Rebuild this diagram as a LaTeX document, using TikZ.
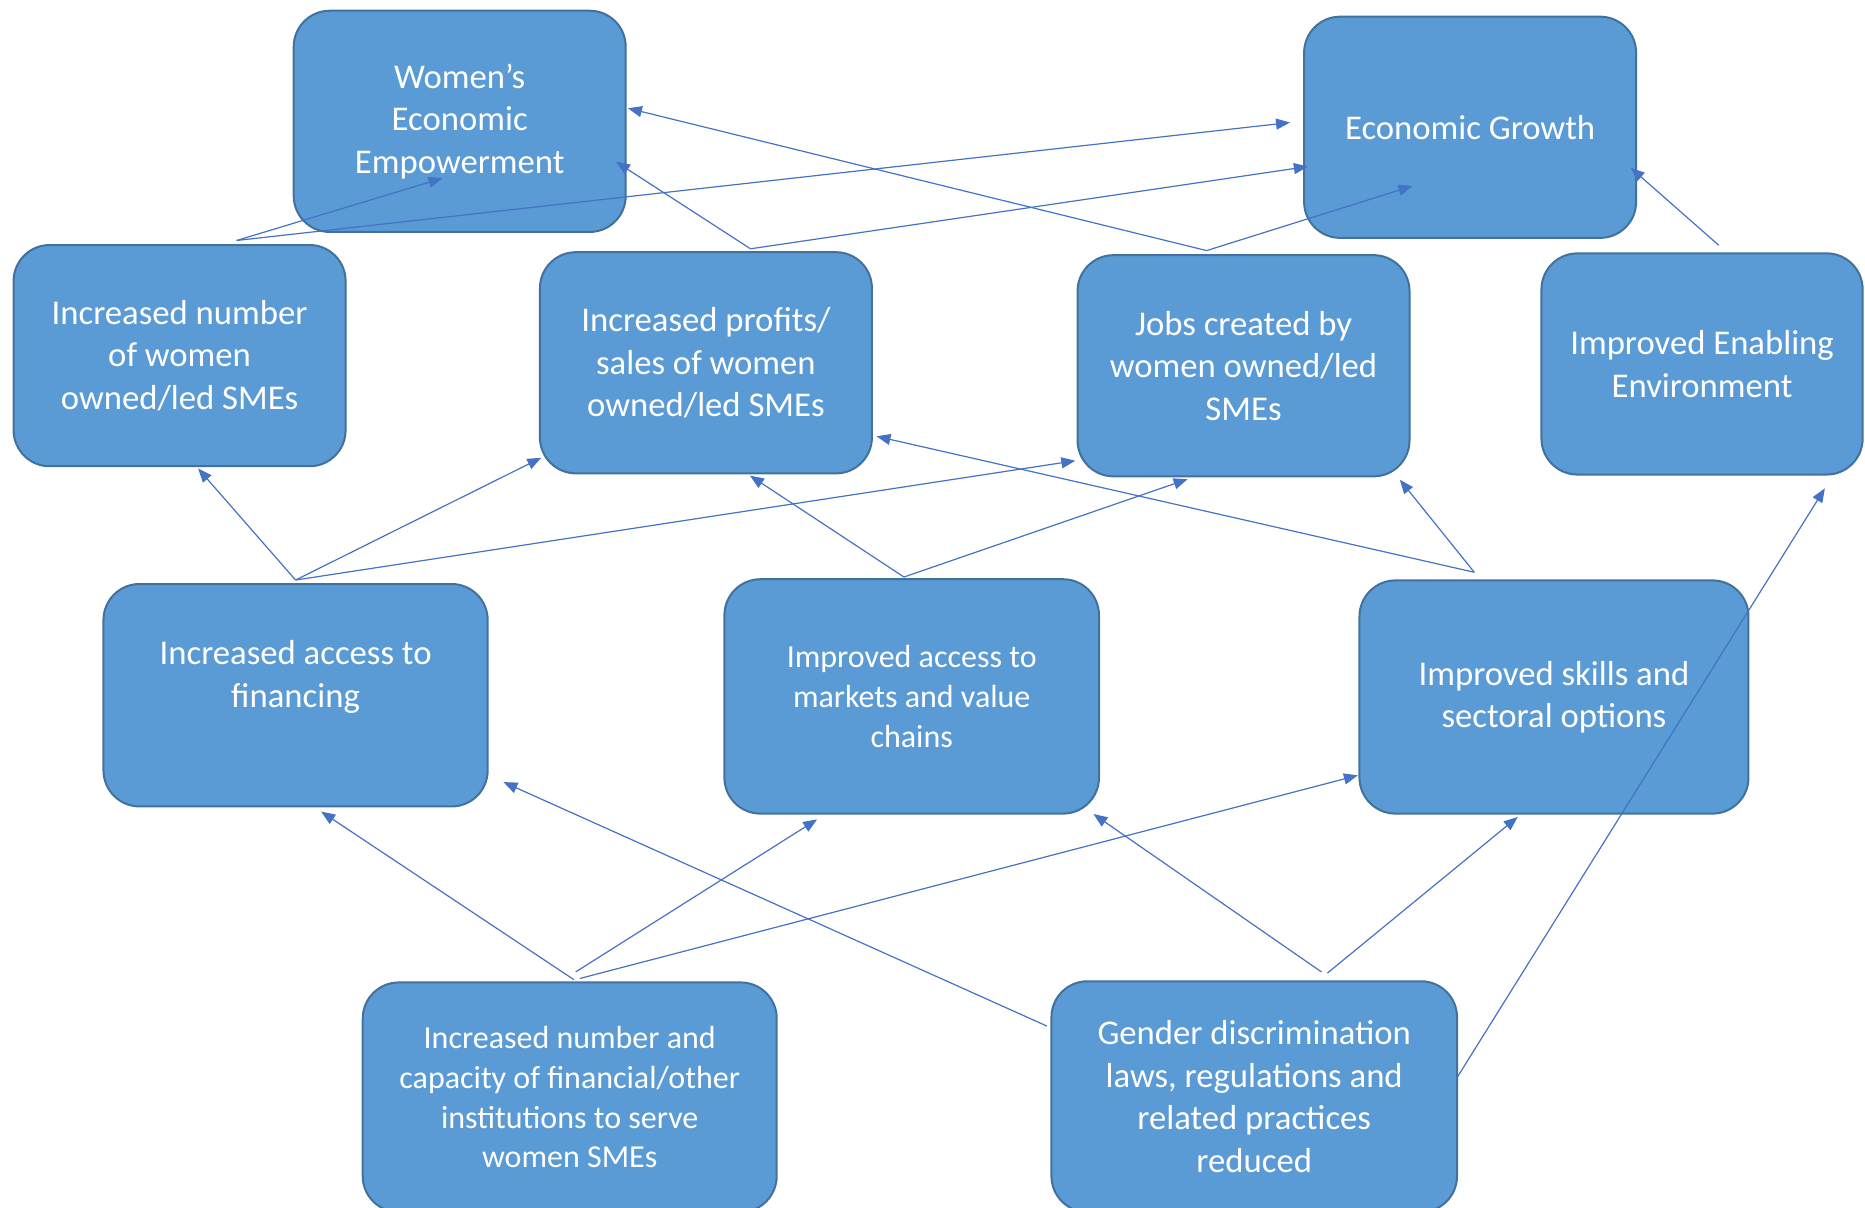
\documentclass[tikz,border=0pt]{standalone}
\usepackage{fontspec}
\setmainfont{Carlito}
\usetikzlibrary{arrows.meta}
\definecolor{boxfill}{HTML}{5B9BD5}
\definecolor{boxline}{HTML}{41719C}
\definecolor{arrowline}{HTML}{4472C4}

\begin{document}
\begin{tikzpicture}[x=0.5947pt,y=-0.5947pt]
    \tikzstyle{box}=[draw=boxline,line width=1pt,fill=boxfill,rounded corners=18pt,text=white,align=center,minimum width=166pt,minimum height=110.6pt,font=\fontsize{17.35}{21.2}\selectfont]
    \tikzstyle{smalltext}=[font=\fontsize{16}{19.8}\selectfont]
    \tikzstyle{link}=[draw=arrowline,line width=.6pt,-{Triangle[length=7pt,width=5.5pt]}]
    \useasboundingbox (0,0) rectangle (1568,1015.6);
    \node[box] (wee) at (386.5,102) {Women’s\\Economic\\Empowerment};
    \node[box] (eg) at (1236,107) {Economic Growth};
    \node[box] (inw) at (151,299) {Increased number\\of women\\owned/led SMEs};
    \node[box] (ips) at (593.5,305) {Increased profits/\\sales of women\\owned/led SMEs};
    \node[box] (jc) at (1045.5,307.5) {Jobs created by\\women owned/led\\SMEs};
    \node[box,minimum width=160.6pt] (iee) at (1431,306) {Improved Enabling\\Environment};
    \node[box,minimum width=192.1pt,minimum height=111.2pt] (iaf) at (248.5,584.5) {Increased access to\\financing\\~};
    \node[box,smalltext,minimum width=187.3pt,minimum height=117.2pt] (iam) at (766.5,585.5) {Improved access to\\markets and value\\chains};
    \node[box,minimum width=194.5pt,minimum height=116.6pt] (iss) at (1306.5,586) {Improved skills and\\sectoral options};
    \node[box,smalltext,minimum width=207pt,minimum height=114.8pt] (inc) at (479,922.5) {Increased number and\\capacity of financial/other\\institutions to serve\\women SMEs};
    \node[box,minimum width=202.8pt,minimum height=115.4pt] (gd) at (1054.5,922) {Gender discrimination\\laws, regulations and\\related practices\\reduced};
    \draw[link] ([shift={(48,-3)}]inw.north) -- ([shift={(-14.5,-46)}]wee.south);
    \draw[link] ([shift={(48,-3)}]inw.north) -- ([shift={(-11,-4)}]eg.west);
    \draw[link] ([shift={(37.5,-2)}]ips.north) -- ([shift={(-9,34)}]wee.east);
    \draw[link] ([shift={(37.5,-2)}]ips.north) -- ([shift={(4,33)}]eg.west);
    \draw[link] ([shift={(-31,-3)}]jc.north) -- ([shift={(1,-11)}]wee.east);
    \draw[link] ([shift={(-31,-3)}]jc.north) -- ([shift={(-48.5,-44.5)}]eg.south);
    \draw[link] ([shift={(14,-6)}]iee.north) -- ([shift={(-5.5,34)}]eg.east);
    \draw[link] ([shift={(0,-2.5)}]iaf.north) -- ([shift={(15.5,1)}]inw.south);
    \draw[link] ([shift={(0,-2.5)}]iaf.north) -- ([shift={(2,-14)}]ips.south west);
    \draw[link] ([shift={(0,-2.5)}]iaf.north) -- ([shift={(-1,-14)}]jc.south west);
    \draw[link] ([shift={(-6.5,-1)}]iam.north) -- ([shift={(37,1)}]ips.south);
    \draw[link] ([shift={(-6.5,-1)}]iam.north) -- ([shift={(-47,1.5)}]jc.south);
    \draw[link] ([shift={(-67,-6)}]iss.north) -- ([shift={(3,-32)}]ips.south east);
    \draw[link] ([shift={(-67,-6)}]iss.north) -- ([shift={(-9,2)}]jc.south east);
    \draw[link] ([shift={(3.5,-1.5)}]inc.north) -- ([shift={(21.5,3.5)}]iaf.south);
    \draw[link] ([shift={(5,-8)}]inc.north) -- ([shift={(-79.5,4)}]iam.south);
    \draw[link] ([shift={(8.5,-2.5)}]inc.north) -- ([shift={(-0.5,-33)}]iss.south west);
    \draw[link] ([shift={(-3,38.5)}]gd.north west) -- ([shift={(12.4,-21.3)}]iaf.south east);
    \draw[link] ([shift={(56.5,-7)}]gd.north) -- ([shift={(-5.5,-0.5)}]iam.south east);
    \draw[link] ([shift={(61.5,-6)}]gd.north) -- ([shift={(-30.5,2)}]iss.south);
    \draw[link] ([shift={(-1.5,-15)}]gd.east) -- ([shift={(-32.6,10.7)}]iee.south east);
\end{tikzpicture}
\end{document}
